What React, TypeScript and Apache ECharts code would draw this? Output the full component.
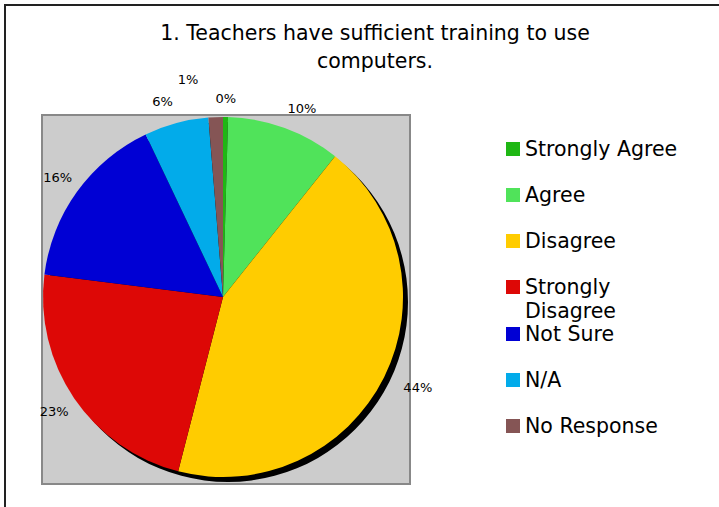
import React, { useEffect, useRef } from "react";
import * as echarts from "echarts";

const categories = [
  "Strongly Agree",
  "Agree",
  "Disagree",
  "Strongly Disagree",
  "Not Sure",
  "N/A",
  "No Response",
];
const values = [0.45, 10.3, 43.5, 23.1, 16.0, 5.8, 1.3];
const colors = ["#1fb714", "#50e35a", "#ffcc00", "#dd0806", "#0000d4", "#02abea", "#855555"];
const titleText = "1. Teachers have sufficient training to use\ncomputers.";

const FONT = "'DejaVu Sans', Verdana, sans-serif";

// label placement tweaks (style, not data)
const labelLineTweaks: Record<string, { length: number; length2: number }> = {
  "Strongly Agree": { length: 19, length2: 0 },
  Agree: { length: 21, length2: 10 },
  Disagree: { length: 22, length2: 14 },
  "N/A": { length: 22, length2: 8 },
  "No Response": { length: 38, length2: 26 },
};

export default function App() {
  const ref = useRef<HTMLDivElement>(null);

  useEffect(() => {
    const chart = echarts.init(ref.current!, null, { renderer: "svg" });
    const data = categories.map((name, i) => {
      const item: any = { name, value: values[i], itemStyle: { color: colors[i] } };
      if (labelLineTweaks[name]) item.labelLine = labelLineTweaks[name];
      return item;
    });
    const legendFont = { fontFamily: FONT, fontSize: 20.5, color: "#000000" };
    const legendBase = {
      orient: "vertical",
      left: 506,
      padding: 0,
      itemWidth: 14,
      itemHeight: 14,
      itemGap: 22,
      icon: "rect",
      selectedMode: false,
      textStyle: {
        ...legendFont,
        lineHeight: 24,
        rich: {
          first: { ...legendFont, lineHeight: 24 },
          wrap: { ...legendFont, lineHeight: 0, height: 24, verticalAlign: "top" },
        },
      },
      formatter: (name: string) =>
        name === "Strongly Disagree" ? "{first|Strongly}\n{wrap|Disagree}" : name,
    };
    chart.setOption({
      animation: false,
      backgroundColor: "#ffffff",
      title: {
        text: titleText,
        left: 375,
        top: 19,
        padding: 0,
        textAlign: "center",
        textStyle: {
          fontFamily: FONT,
          fontSize: 20.5,
          fontWeight: "normal",
          color: "#000000",
          lineHeight: 28,
        },
      },
      legend: [
        { ...legendBase, top: 137, data: categories.slice(0, 4) },
        { ...legendBase, top: 322, data: categories.slice(4) },
      ],
      graphic: [
        {
          type: "rect",
          z: 0,
          silent: true,
          shape: { x: 5, y: 5, width: 800, height: 600 },
          style: { fill: "#ffffff", stroke: "#222222", lineWidth: 2 },
        },
        {
          type: "rect",
          z: 0,
          silent: true,
          shape: { x: 42, y: 115, width: 368, height: 369 },
          style: { fill: "#cccccc", stroke: "#888888", lineWidth: 2 },
        },
      ],
      series: [
        {
          type: "pie",
          name: "shadow",
          z: 1,
          silent: true,
          center: [228, 302],
          radius: 180,
          startAngle: 90,
          label: { show: false },
          labelLine: { show: false },
          data: [{ value: 1, itemStyle: { color: "#000000" } }],
        },
        {
          type: "pie",
          name: "responses",
          z: 2,
          center: [223, 297],
          radius: 180,
          startAngle: 90,
          clockwise: true,
          avoidLabelOverlap: false,
          data,
          label: {
            show: true,
            position: "outside",
            distanceToLabelLine: 0,
            fontFamily: FONT,
            fontSize: 13,
            color: "#000000",
            formatter: (p: any) => Math.round(p.value) + "%",
          },
          labelLine: { show: false, length: 24, length2: 0 },
          labelLayout: () => ({ align: "center" }),
        },
      ],
    });
    return () => chart.dispose();
  }, []);

  return (
    <div
      ref={ref}
      style={{ position: "fixed", left: 0, top: 0, width: 719, height: 507 }}
    />
  );
}
